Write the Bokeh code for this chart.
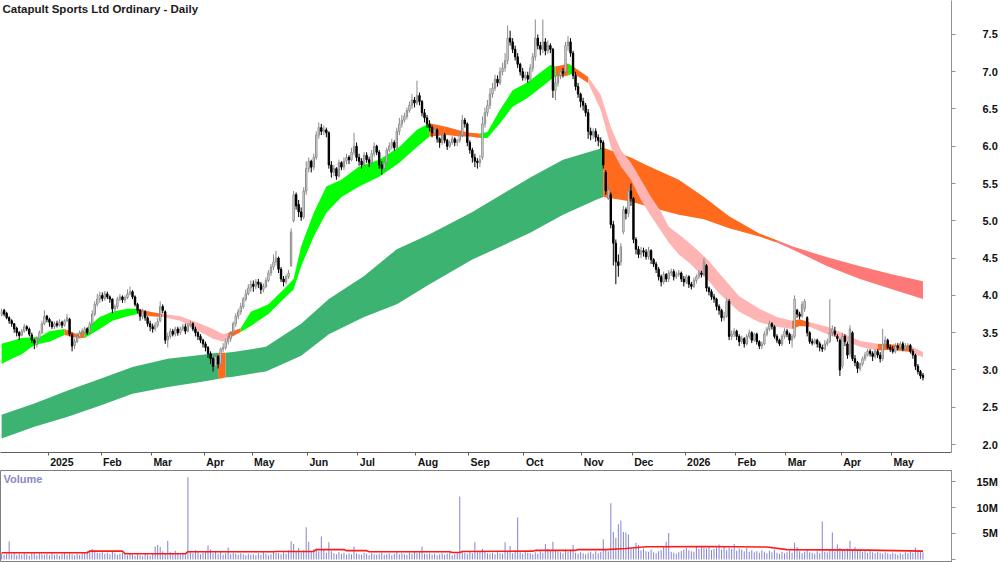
import numpy as np
import pandas as pd
from bokeh.plotting import figure
from bokeh.layouts import column
from bokeh.models import Range1d, FixedTicker, Label, NumeralTickFormatter
from bokeh.embed import file_html
from bokeh.resources import INLINE

# ---------------- data ----------------
start_date = "2024-12-03"
holidays = ["2024-12-25", "2024-12-26", "2025-01-01", "2025-01-27", "2025-04-18",
            "2025-04-21", "2025-04-25", "2025-06-09", "2025-12-25", "2025-12-26",
            "2026-01-01", "2026-01-26", "2026-04-03", "2026-04-06"]

closes = [
    3.78, 3.75, 3.70, 3.66, 3.62, 3.55, 3.50, 3.46, 3.52, 3.58,
    3.55, 3.48, 3.40, 3.36, 3.42, 3.50, 3.62, 3.72, 3.68, 3.64,
    3.58, 3.62, 3.60, 3.64, 3.60, 3.66, 3.70, 3.48, 3.32, 3.38,
    3.45, 3.50, 3.52, 3.55, 3.50, 3.62, 3.75, 3.88, 3.95, 4.00,
    3.96, 4.02, 3.98, 3.95, 3.82, 3.85, 3.95, 3.98, 3.94, 3.97,
    4.02, 4.05, 3.98, 3.88, 3.80, 3.72, 3.78, 3.70, 3.62, 3.58,
    3.55, 3.60, 3.65, 3.85, 3.80, 3.40, 3.45, 3.52, 3.48, 3.55,
    3.50, 3.55, 3.58, 3.52, 3.60, 3.62, 3.55, 3.50, 3.45, 3.40,
    3.35, 3.30, 3.22, 3.15, 3.05, 3.18, 3.08, 3.28, 3.30, 3.38,
    3.42, 3.48, 3.62, 3.72, 3.78, 3.85, 3.95, 4.02, 4.10, 4.15,
    4.12, 4.18, 4.15, 4.08, 4.12, 4.20, 4.30, 4.38, 4.45, 4.50,
    4.35, 4.22, 4.18, 4.25, 4.30, 4.85, 5.35, 5.20, 5.12, 5.05,
    5.40, 5.70, 5.80, 5.72, 5.85, 6.15, 6.25, 6.20, 6.22, 6.18,
    5.75, 5.65, 5.70, 5.60, 5.78, 5.72, 5.80, 5.85, 5.82, 5.92,
    6.00, 5.85, 5.80, 5.75, 5.88, 5.82, 5.78, 5.90, 6.00, 5.92,
    5.75, 5.70, 5.78, 5.95, 6.00, 6.05, 5.98, 6.20, 6.30, 6.35,
    6.40, 6.48, 6.55, 6.62, 6.58, 6.68, 6.60, 6.45, 6.38, 6.30,
    6.25, 6.18, 6.22, 6.10, 6.05, 6.15, 6.08, 6.00, 6.05, 6.10,
    6.05, 6.08, 6.15, 6.35, 6.30, 6.05, 5.95, 5.85, 5.80, 5.78,
    5.82, 6.30, 6.45, 6.55, 6.70, 6.78, 6.90, 6.85, 7.00, 7.05,
    7.15, 7.45, 7.40, 7.30, 7.20, 7.10, 7.00, 6.92, 6.95, 6.90,
    7.05, 7.20, 7.45, 7.35, 7.30, 7.40, 7.28, 7.35, 7.30, 6.75,
    6.85, 6.95, 7.00, 6.98, 7.35, 7.40, 7.25, 6.95, 6.80, 6.70,
    6.60, 6.55, 6.45, 6.20, 6.15, 6.20, 6.12, 6.08, 6.05, 5.75,
    5.40, 5.42, 4.95, 4.70, 4.45, 4.40, 4.65, 5.15, 5.10, 5.40,
    5.30, 4.75, 4.62, 4.55, 4.60, 4.58, 4.52, 4.60, 4.48, 4.42,
    4.35, 4.25, 4.18, 4.28, 4.22, 4.30, 4.32, 4.25, 4.28, 4.30,
    4.22, 4.18, 4.25, 4.15, 4.12, 4.20, 4.25, 4.30, 4.28, 4.45,
    4.10, 4.05, 3.98, 3.95, 3.85, 3.80, 3.70, 3.72, 3.92, 3.45,
    3.48, 3.52, 3.45, 3.38, 3.42, 3.35, 3.45, 3.50, 3.40, 3.48,
    3.38, 3.32, 3.35, 3.48, 3.55, 3.62, 3.58, 3.45, 3.40, 3.35,
    3.45, 3.52, 3.48, 3.40, 3.45, 3.95, 3.75, 3.72, 3.88, 3.92,
    3.50, 3.38, 3.36, 3.40, 3.35, 3.30, 3.28, 3.35, 3.38, 3.50,
    3.55, 3.48, 3.42, 3.00, 3.45, 3.38, 3.20, 3.55, 3.15, 3.10,
    3.02, 3.08, 3.15, 3.20, 3.25, 3.22, 3.18, 3.25, 3.20, 3.15,
    3.35, 3.40, 3.30, 3.28, 3.25, 3.32, 3.30, 3.35, 3.28, 3.32,
    3.33, 3.25, 3.20, 3.05, 2.98, 2.92, 2.90]

opens = [
    3.74, 3.80, 3.76, 3.70, 3.66, 3.62, 3.56, 3.50, 3.47, 3.52,
    3.58, 3.55, 3.47, 3.40, 3.34, 3.42, 3.50, 3.62, 3.72, 3.68,
    3.64, 3.58, 3.62, 3.60, 3.64, 3.60, 3.66, 3.68, 3.47, 3.33,
    3.38, 3.45, 3.50, 3.51, 3.55, 3.50, 3.62, 3.75, 3.88, 3.95,
    4.00, 3.96, 4.02, 3.98, 3.95, 3.82, 3.85, 3.95, 3.98, 3.94,
    3.97, 4.02, 4.05, 3.98, 3.88, 3.80, 3.72, 3.78, 3.70, 3.62,
    3.58, 3.55, 3.60, 3.66, 3.85, 3.78, 3.40, 3.45, 3.52, 3.48,
    3.55, 3.50, 3.55, 3.58, 3.52, 3.60, 3.62, 3.55, 3.50, 3.45,
    3.40, 3.35, 3.30, 3.22, 3.15, 3.05, 3.18, 3.08, 3.28, 3.30,
    3.38, 3.42, 3.50, 3.62, 3.72, 3.78, 3.85, 3.95, 4.02, 4.10,
    4.15, 4.12, 4.18, 4.15, 4.08, 4.12, 4.20, 4.30, 4.38, 4.45,
    4.50, 4.35, 4.22, 4.18, 4.25, 4.40, 5.00, 5.35, 5.22, 5.12,
    5.05, 5.40, 5.70, 5.80, 5.72, 5.85, 6.15, 6.25, 6.20, 6.22,
    6.18, 5.75, 5.65, 5.70, 5.60, 5.78, 5.72, 5.80, 5.85, 5.82,
    5.92, 6.00, 5.85, 5.80, 5.75, 5.88, 5.82, 5.78, 5.90, 6.00,
    5.92, 5.75, 5.70, 5.78, 5.95, 6.00, 6.05, 5.98, 6.20, 6.30,
    6.35, 6.40, 6.48, 6.55, 6.62, 6.58, 6.68, 6.60, 6.45, 6.38,
    6.30, 6.25, 6.18, 6.22, 6.10, 6.05, 6.15, 6.08, 6.00, 6.05,
    6.10, 6.05, 6.08, 6.15, 6.35, 6.30, 6.05, 5.95, 5.85, 5.80,
    5.78, 5.85, 6.30, 6.45, 6.55, 6.70, 6.78, 6.90, 6.85, 7.00,
    7.05, 7.15, 7.45, 7.40, 7.30, 7.20, 7.10, 7.00, 6.92, 6.95,
    6.90, 7.05, 7.20, 7.45, 7.35, 7.30, 7.40, 7.28, 7.35, 7.30,
    6.75, 6.85, 6.95, 7.00, 7.00, 7.35, 7.40, 7.25, 6.95, 6.80,
    6.70, 6.60, 6.55, 6.45, 6.20, 6.15, 6.20, 6.12, 6.08, 6.05,
    5.65, 5.30, 5.35, 4.95, 4.70, 4.45, 4.45, 4.85, 5.15, 5.10,
    5.40, 5.30, 4.75, 4.62, 4.55, 4.60, 4.58, 4.52, 4.60, 4.48,
    4.42, 4.35, 4.25, 4.18, 4.28, 4.22, 4.30, 4.32, 4.25, 4.28,
    4.30, 4.22, 4.18, 4.25, 4.15, 4.12, 4.20, 4.25, 4.30, 4.28,
    4.40, 4.10, 4.05, 3.98, 3.95, 3.85, 3.80, 3.70, 3.72, 3.92,
    3.45, 3.48, 3.52, 3.45, 3.38, 3.42, 3.35, 3.45, 3.50, 3.40,
    3.48, 3.38, 3.32, 3.35, 3.48, 3.55, 3.62, 3.58, 3.45, 3.40,
    3.35, 3.45, 3.52, 3.48, 3.40, 3.45, 3.80, 3.75, 3.72, 3.82,
    3.70, 3.50, 3.38, 3.36, 3.40, 3.35, 3.30, 3.28, 3.35, 3.38,
    3.50, 3.52, 3.45, 3.40, 3.05, 3.45, 3.35, 3.22, 3.50, 3.15,
    3.10, 3.02, 3.08, 3.15, 3.20, 3.25, 3.22, 3.18, 3.25, 3.20,
    3.15, 3.35, 3.40, 3.30, 3.28, 3.25, 3.32, 3.30, 3.35, 3.28,
    3.32, 3.33, 3.25, 3.20, 3.05, 2.98, 2.93]

highs = [
    3.82, 3.82, 3.78, 3.72, 3.68, 3.63, 3.58, 3.52, 3.55, 3.62,
    3.60, 3.57, 3.50, 3.42, 3.45, 3.53, 3.66, 3.80, 3.74, 3.70,
    3.66, 3.65, 3.66, 3.68, 3.66, 3.68, 3.75, 3.70, 3.50, 3.42,
    3.50, 3.53, 3.56, 3.58, 3.57, 3.65, 3.80, 3.92, 4.02, 4.05,
    4.04, 4.06, 4.05, 4.00, 3.96, 3.88, 3.98, 4.02, 4.00, 4.00,
    4.08, 4.12, 4.07, 4.00, 3.90, 3.82, 3.82, 3.80, 3.72, 3.66,
    3.62, 3.64, 3.70, 3.92, 3.88, 3.80, 3.50, 3.56, 3.55, 3.58,
    3.58, 3.58, 3.62, 3.62, 3.63, 3.66, 3.64, 3.58, 3.52, 3.48,
    3.42, 3.38, 3.32, 3.25, 3.17, 3.22, 3.20, 3.30, 3.36, 3.42,
    3.46, 3.52, 3.65, 3.76, 3.82, 3.90, 3.98, 4.08, 4.15, 4.20,
    4.20, 4.22, 4.22, 4.18, 4.16, 4.24, 4.34, 4.42, 4.55, 4.60,
    4.52, 4.38, 4.26, 4.28, 4.34, 4.90, 5.40, 5.38, 5.28, 5.18,
    5.45, 5.80, 5.85, 5.82, 5.90, 6.20, 6.32, 6.30, 6.28, 6.25,
    6.20, 5.80, 5.75, 5.72, 5.82, 5.80, 5.85, 5.90, 5.88, 5.98,
    6.18, 6.05, 5.90, 5.84, 5.92, 5.92, 5.86, 5.95, 6.05, 6.02,
    5.95, 5.80, 5.82, 5.98, 6.05, 6.10, 6.08, 6.25, 6.38, 6.42,
    6.45, 6.52, 6.60, 6.70, 6.66, 6.88, 6.72, 6.62, 6.50, 6.42,
    6.35, 6.28, 6.26, 6.24, 6.12, 6.18, 6.18, 6.10, 6.08, 6.14,
    6.12, 6.10, 6.20, 6.42, 6.38, 6.32, 6.08, 5.98, 5.90, 5.84,
    5.88, 6.40, 6.52, 6.62, 6.78, 6.85, 6.96, 6.95, 7.06, 7.12,
    7.25, 7.62, 7.55, 7.45, 7.35, 7.25, 7.12, 7.05, 7.00, 7.00,
    7.10, 7.25, 7.70, 7.50, 7.40, 7.70, 7.45, 7.42, 7.38, 7.32,
    6.95, 7.00, 7.05, 7.05, 7.40, 7.48, 7.45, 7.28, 7.00, 6.85,
    6.72, 6.65, 6.58, 6.50, 6.25, 6.24, 6.24, 6.16, 6.12, 6.08,
    5.68, 5.48, 5.38, 5.00, 4.75, 4.55, 4.70, 5.20, 5.18, 5.48,
    5.50, 5.32, 4.78, 4.66, 4.65, 4.64, 4.62, 4.65, 4.62, 4.50,
    4.45, 4.38, 4.28, 4.32, 4.30, 4.34, 4.36, 4.35, 4.32, 4.34,
    4.32, 4.26, 4.28, 4.27, 4.18, 4.24, 4.28, 4.34, 4.33, 4.50,
    4.42, 4.12, 4.08, 4.02, 3.97, 3.88, 3.82, 3.78, 3.96, 3.95,
    3.53, 3.56, 3.54, 3.48, 3.46, 3.44, 3.48, 3.54, 3.52, 3.50,
    3.50, 3.40, 3.38, 3.52, 3.58, 3.66, 3.64, 3.60, 3.48, 3.42,
    3.48, 3.56, 3.55, 3.50, 3.48, 4.00, 3.82, 3.78, 3.92, 3.95,
    3.72, 3.52, 3.42, 3.42, 3.42, 3.38, 3.34, 3.40, 3.42, 3.95,
    3.60, 3.58, 3.48, 3.42, 3.50, 3.48, 3.38, 3.60, 3.52, 3.20,
    3.12, 3.10, 3.18, 3.24, 3.28, 3.28, 3.25, 3.28, 3.28, 3.24,
    3.55, 3.45, 3.42, 3.34, 3.32, 3.36, 3.36, 3.38, 3.38, 3.36,
    3.36, 3.35, 3.28, 3.22, 3.08, 3.00, 2.96]

lows = [
    3.72, 3.72, 3.68, 3.62, 3.58, 3.50, 3.45, 3.40, 3.45, 3.50,
    3.52, 3.45, 3.36, 3.28, 3.30, 3.40, 3.48, 3.60, 3.64, 3.58,
    3.55, 3.55, 3.57, 3.58, 3.56, 3.58, 3.64, 3.45, 3.25, 3.28,
    3.36, 3.42, 3.47, 3.48, 3.47, 3.48, 3.60, 3.72, 3.85, 3.90,
    3.92, 3.93, 3.95, 3.90, 3.76, 3.78, 3.82, 3.92, 3.90, 3.90,
    3.95, 4.00, 3.95, 3.85, 3.76, 3.66, 3.68, 3.66, 3.58, 3.52,
    3.50, 3.52, 3.57, 3.64, 3.76, 3.35, 3.30, 3.42, 3.45, 3.45,
    3.46, 3.47, 3.52, 3.48, 3.50, 3.57, 3.52, 3.45, 3.40, 3.36,
    3.30, 3.25, 3.16, 3.08, 2.98, 3.02, 3.02, 3.05, 3.24, 3.27,
    3.34, 3.38, 3.48, 3.58, 3.68, 3.74, 3.82, 3.92, 4.00, 4.05,
    4.05, 4.08, 4.10, 4.02, 4.04, 4.10, 4.18, 4.26, 4.34, 4.40,
    4.30, 4.18, 4.12, 4.15, 4.22, 4.38, 4.98, 5.15, 5.05, 5.00,
    5.02, 5.35, 5.65, 5.65, 5.68, 5.82, 6.10, 6.15, 6.15, 6.12,
    5.70, 5.58, 5.60, 5.55, 5.58, 5.68, 5.68, 5.76, 5.76, 5.80,
    5.88, 5.80, 5.74, 5.70, 5.72, 5.78, 5.72, 5.74, 5.86, 5.88,
    5.70, 5.62, 5.66, 5.75, 5.92, 5.96, 5.94, 5.96, 6.15, 6.25,
    6.32, 6.36, 6.45, 6.50, 6.52, 6.55, 6.55, 6.40, 6.32, 6.25,
    6.20, 6.12, 6.15, 6.05, 5.98, 6.02, 6.04, 5.95, 5.98, 6.02,
    6.00, 6.00, 6.05, 6.12, 6.25, 6.00, 5.90, 5.78, 5.72, 5.70,
    5.72, 5.82, 6.25, 6.40, 6.50, 6.65, 6.74, 6.80, 6.82, 6.95,
    7.00, 7.10, 7.35, 7.25, 7.15, 7.05, 6.95, 6.88, 6.88, 6.85,
    6.86, 7.00, 7.15, 7.30, 7.22, 7.25, 7.22, 7.24, 7.25, 6.65,
    6.62, 6.80, 6.90, 6.92, 6.95, 7.28, 7.20, 6.90, 6.75, 6.65,
    6.52, 6.48, 6.40, 6.10, 6.08, 6.10, 6.06, 6.00, 5.96, 5.70,
    5.35, 5.28, 4.90, 4.40, 4.15, 4.25, 4.40, 4.82, 5.02, 5.05,
    5.20, 4.70, 4.55, 4.50, 4.50, 4.52, 4.48, 4.48, 4.42, 4.38,
    4.30, 4.20, 4.12, 4.15, 4.18, 4.18, 4.26, 4.20, 4.22, 4.25,
    4.18, 4.12, 4.15, 4.10, 4.08, 4.10, 4.16, 4.22, 4.24, 4.26,
    4.05, 4.00, 3.94, 3.90, 3.80, 3.74, 3.65, 3.66, 3.70, 3.40,
    3.40, 3.44, 3.40, 3.32, 3.35, 3.30, 3.33, 3.42, 3.36, 3.38,
    3.34, 3.28, 3.28, 3.33, 3.45, 3.52, 3.54, 3.42, 3.36, 3.32,
    3.32, 3.42, 3.44, 3.35, 3.30, 3.42, 3.70, 3.68, 3.70, 3.78,
    3.45, 3.35, 3.33, 3.34, 3.30, 3.25, 3.24, 3.26, 3.32, 3.36,
    3.45, 3.45, 3.38, 2.92, 3.02, 3.32, 3.15, 3.18, 3.12, 3.05,
    2.96, 2.98, 3.05, 3.12, 3.18, 3.18, 3.12, 3.15, 3.16, 3.10,
    3.12, 3.30, 3.28, 3.24, 3.22, 3.22, 3.26, 3.27, 3.25, 3.25,
    3.28, 3.22, 3.15, 3.00, 2.94, 2.88, 2.86]

volumes_m = [
    1.2, 0.9, 1.1, 3.5, 1.0, 1.3, 0.8, 1.1, 0.9, 1.2,
    1.0, 0.7, 1.3, 1.1, 0.8, 1.2, 1.0, 0.9, 1.1, 0.8,
    1.2, 0.9, 1.0, 0.7, 1.1, 1.3, 0.9, 1.2, 1.0, 0.8,
    1.1, 0.9, 1.2, 1.4, 1.6, 1.8, 2.0, 1.5, 1.3, 1.2,
    1.4, 1.1, 1.3, 1.0, 1.5, 1.2, 0.9, 1.1, 1.3, 1.0,
    0.8, 1.2, 0.9, 0.7, 1.0, 0.8, 0.6, 1.1, 0.9, 0.7,
    1.0, 2.5, 2.8, 2.4, 1.6, 1.2, 3.6, 1.4, 1.0, 1.7,
    1.1, 0.9, 1.3, 1.0, 15.8, 1.5, 1.2, 1.8, 1.4, 1.0,
    1.3, 1.6, 2.7, 1.9, 1.2, 1.5, 1.1, 1.4, 0.9, 1.2,
    2.3, 1.0, 1.3, 1.1, 0.9, 1.2, 1.0, 0.8, 1.1, 0.9,
    1.0, 0.8, 1.2, 0.9, 1.4, 1.1, 0.8, 1.0, 1.6, 1.3,
    1.2, 1.0, 1.4, 1.1, 1.8, 3.5, 3.0, 1.6, 2.2, 1.4,
    1.8, 6.2, 3.4, 1.5, 2.0, 2.1, 1.6, 4.4, 1.9, 1.3,
    3.3, 1.6, 1.2, 1.0, 1.4, 1.1, 1.3, 0.9, 1.2, 1.0,
    2.5, 1.2, 1.0, 0.9, 1.3, 1.1, 0.8, 1.2, 1.0, 0.9,
    1.1, 1.3, 0.9, 1.0, 1.2, 0.8, 1.1, 1.4, 1.0, 1.2,
    1.0, 0.9, 1.3, 1.1, 1.5, 1.2, 1.4, 2.5, 1.1, 1.0,
    1.2, 0.9, 1.1, 0.8, 1.0, 1.2, 0.9, 1.1, 1.3, 0.8,
    1.0, 1.2, 12.1, 1.4, 1.3, 1.1, 1.6, 1.2, 3.3, 1.4,
    1.5, 2.0, 1.6, 1.2, 1.1, 1.3, 1.0, 1.4, 1.2, 1.1,
    3.3, 1.5, 2.6, 1.2, 1.8, 8.1, 1.4, 1.1, 1.5, 1.3,
    1.2, 1.0, 1.4, 1.1, 1.6, 1.3, 3.0, 2.0, 1.7, 3.4,
    1.8, 1.6, 1.4, 1.2, 1.9, 1.5, 1.7, 2.8, 1.3, 1.1,
    1.4, 1.2, 1.0, 1.3, 1.5, 1.1, 1.6, 1.2, 1.5, 3.9,
    1.8, 1.6, 10.8, 5.3, 4.2, 6.8, 7.5, 5.3, 5.2, 4.8,
    2.2, 2.0, 3.2, 2.8, 1.8, 2.1, 1.6, 1.5, 1.9, 1.4,
    1.2, 1.6, 1.8, 2.6, 3.4, 5.1, 1.5, 1.3, 1.1, 1.4,
    1.7, 1.9, 2.2, 1.8, 1.6, 1.5, 2.4, 2.0, 2.6, 2.3,
    2.1, 2.4, 1.8, 2.0, 2.2, 2.9, 1.9, 2.5, 1.8, 2.3,
    2.0, 3.0, 1.7, 2.1, 1.9, 1.6, 2.2, 1.5, 1.8, 1.4,
    1.6, 1.3, 1.8, 1.5, 1.2, 1.7, 1.4, 1.9, 1.3, 1.1,
    1.5, 1.2, 1.4, 1.7, 1.3, 3.2, 2.4, 1.6, 1.2, 1.5,
    1.9, 1.4, 1.3, 1.1, 1.6, 1.2, 7.3, 1.5, 1.4, 1.8,
    5.2, 1.6, 2.9, 2.2, 1.9, 1.7, 2.1, 3.6, 1.8, 2.4,
    1.7, 2.0, 1.5, 1.8, 1.3, 1.6, 1.4, 1.2, 1.5, 1.3,
    1.1, 1.4, 1.2, 1.0, 1.3, 1.1, 0.9, 1.2, 1.0, 1.4,
    1.2, 1.5, 1.3, 2.3, 1.8, 1.6, 1.4]

# volume moving average (breakpoints: bar index, value in millions)
vma_idx = [0, 34, 35, 48, 49, 73, 74, 108, 109, 124, 125, 136, 137, 145, 146, 178,
           179, 182, 183, 211, 212, 228, 229, 240, 248, 256, 280, 304, 312, 344, 366]
vma_val = [1.3, 1.3, 1.6, 1.6, 1.1, 1.1, 1.5, 1.5, 1.55, 1.55, 1.9, 1.9, 1.7, 1.7, 1.5, 1.5,
           1.35, 1.35, 1.55, 1.6, 1.75, 1.75, 1.9, 1.9, 2.1, 2.45, 2.5, 2.4, 1.9, 1.8, 1.6]

# short-term MMA band (read at sample bars)
sb_idx = [0, 4, 8, 12, 15, 19, 25, 30, 33, 39, 44, 50, 54, 59, 64, 71, 79, 84, 88, 90,
          95, 99, 106, 112, 116, 119, 124, 129, 135, 142, 150, 158, 165, 170, 177, 182, 186, 190, 193, 198,
          203, 209, 214, 218, 220, 223, 225, 227, 233, 238, 242, 246, 250, 254, 258, 262, 265, 269, 273, 277,
          281, 285, 293, 301, 308, 314, 317, 321, 328, 333, 341, 348, 354, 361, 366]
sb_hi = [3.35, 3.39, 3.43, 3.44, 3.44, 3.52, 3.55, 3.48, 3.54, 3.71, 3.78, 3.82, 3.82, 3.78, 3.75, 3.72, 3.62, 3.55, 3.48, 3.50,
         3.56, 3.78, 3.88, 4.08, 4.22, 4.66, 5.11, 5.46, 5.55, 5.73, 5.82, 5.99, 6.22, 6.31, 6.26, 6.21, 6.18, 6.17, 6.19, 6.49,
         6.75, 6.86, 6.99, 7.09, 7.07, 7.09, 7.11, 7.07, 6.93, 6.69, 6.26, 5.95, 5.78, 5.55, 5.32, 5.12, 4.92, 4.82, 4.71, 4.59,
         4.46, 4.30, 3.99, 3.82, 3.71, 3.66, 3.68, 3.64, 3.58, 3.51, 3.39, 3.35, 3.34, 3.32, 3.24]
sb_lo = [3.08, 3.15, 3.21, 3.31, 3.35, 3.38, 3.47, 3.43, 3.43, 3.55, 3.66, 3.72, 3.75, 3.72, 3.71, 3.66, 3.51, 3.42, 3.38, 3.42,
         3.51, 3.59, 3.75, 3.95, 4.08, 4.39, 4.79, 5.11, 5.32, 5.46, 5.59, 5.78, 5.99, 6.13, 6.15, 6.13, 6.13, 6.11, 6.11, 6.31,
         6.53, 6.65, 6.78, 6.89, 6.94, 6.94, 6.95, 6.98, 6.85, 6.49, 5.99, 5.73, 5.55, 5.28, 5.06, 4.86, 4.71, 4.55, 4.44, 4.31,
         4.19, 4.03, 3.78, 3.64, 3.58, 3.55, 3.59, 3.58, 3.48, 3.42, 3.31, 3.26, 3.27, 3.24, 3.17]
sb_segments = [(0, 25, "up"), (25, 33, "mixed"), (33, 54, "up"), (54, 64, "mixed"), (64, 90, "down"),
               (90, 95, "mixed"), (95, 170, "up"), (170, 190, "mixed"), (190, 220, "up"), (220, 225, "mixed"),
               (225, 227, "up"), (227, 233, "mixed"), (233, 314, "down"), (314, 321, "mixed"),
               (321, 348, "down"), (348, 361, "mixed"), (361, 366, "down")]

# long-term MMA band
lb_idx = [0, 13, 26, 39, 52, 66, 79, 86, 89, 92, 105, 119, 130, 144, 157, 170, 187, 210, 223, 236,
          239, 250, 256, 269, 279, 289, 301, 308, 314, 328, 341, 354, 366]
lb_hi = [2.40, 2.55, 2.72, 2.88, 3.04, 3.15, 3.20, 3.23, 3.23, 3.24, 3.31, 3.62, 3.95, 4.26, 4.62, 4.82, 5.12, 5.58, 5.82, 5.95,
         5.98, 5.85, 5.75, 5.55, 5.32, 5.06, 4.83, 4.74, 4.66, 4.51, 4.39, 4.28, 4.19]
lb_lo = [2.08, 2.24, 2.37, 2.52, 2.68, 2.77, 2.84, 2.88, 2.90, 2.91, 2.98, 3.19, 3.48, 3.71, 3.88, 4.15, 4.48, 4.84, 5.08, 5.28,
         5.32, 5.26, 5.20, 5.08, 5.02, 4.90, 4.79, 4.71, 4.62, 4.39, 4.22, 4.08, 3.95]
lb_segments = [(0, 86, "up"), (86, 89, "mixed"), (89, 239, "up"), (239, 308, "mixed"), (308, 366, "down")]

price_ticks = [2.0, 2.5, 3.0, 3.5, 4.0, 4.5, 5.0, 5.5, 6.0, 6.5, 7.0, 7.5]
vol_ticks = [0, 5, 10, 15]
vol_tick_labels = ["", "\u20075M", "10M", "15M"]

# ---------------- styling ----------------
SHORT_COL = {"up": "#00ff00", "mixed": "#ff6a1c", "down": "#ffb4b4"}
LONG_COL = {"up": "#3cb371", "mixed": "#ff6a1c", "down": "#ff7878"}
UP_LINE = "#8a8a8a"
VOL_COL = "#8484d0"
FONT = "Liberation Sans"
LABEL_PX = 11
XLABEL_PX = 10.5
# advance widths (em) of Liberation Sans Bold, used to place month labels just right of their tick
BOLD_EM = {"0": .556, "1": .556, "2": .556, "5": .556, "6": .556, "F": .611, "e": .556, "b": .611,
           "M": .833, "a": .556, "r": .389, "A": .722, "p": .611, "y": .556, "J": .556, "u": .611,
           "n": .611, "l": .278, "g": .611, "S": .667, "O": .778, "c": .556, "t": .333, "N": .722,
           "o": .611, "v": .556, "D": .722}

n = len(closes)
idx = np.arange(n)
o = np.array(opens); h = np.array(highs); l = np.array(lows); c = np.array(closes)
up = c >= o

dates = pd.bdate_range(start=start_date, periods=n, freq="C", holidays=holidays)
months = dates.to_period("M")
tick_pos, tick_lab = [], []
for i in range(1, n):
    if months[i] != months[i - 1]:
        tick_pos.append(i - 0.5)
        d = dates[i]
        tick_lab.append(str(d.year) if d.month == 1 else d.strftime("%b"))

PX_PER_BAR = 2.52
FRAME_W = 952
Y_TOP = 7.955
x_range = Range1d(-0.44, -0.44 + FRAME_W / PX_PER_BAR)

# label centres: boundary + 2px + half the label width (in bar units)
label_centres = []
for t, s in zip(tick_pos, tick_lab):
    w = sum(BOLD_EM.get(ch, 0.6) for ch in s) * XLABEL_PX
    label_centres.append(round(t + (2.0 + w / 2.0) / PX_PER_BAR, 3))

p = figure(width=1000, height=470, x_range=x_range, y_range=Range1d(1.893, Y_TOP),
           output_backend="svg", toolbar_location=None, y_axis_location="right",
           min_border_left=0, min_border_right=48, min_border_top=0, min_border_bottom=16)
p.grid.visible = False
p.outline_line_color = None

# bands
for a, b, trend in lb_segments:
    sel = [k for k, v in enumerate(lb_idx) if a <= v <= b]
    p.varea(x=[lb_idx[k] for k in sel], y1=[lb_lo[k] for k in sel], y2=[lb_hi[k] for k in sel],
            fill_color=LONG_COL[trend])
for a, b, trend in sb_segments:
    sel = [k for k, v in enumerate(sb_idx) if a <= v <= b]
    p.varea(x=[sb_idx[k] for k in sel], y1=[sb_lo[k] for k in sel], y2=[sb_hi[k] for k in sel],
            fill_color=SHORT_COL[trend])

# candles
p.segment(x0=idx[up], y0=l[up], x1=idx[up], y1=h[up], line_color=UP_LINE, line_width=1)
p.segment(x0=idx[~up], y0=l[~up], x1=idx[~up], y1=h[~up], line_color="black", line_width=1)
p.vbar(x=idx[up], top=np.maximum(o, c)[up], bottom=np.minimum(o, c)[up], width=0.55,
       fill_color="white", line_color=UP_LINE, line_width=1)
p.vbar(x=idx[~up], top=np.maximum(o, c)[~up], bottom=np.minimum(o, c)[~up], width=0.55,
       fill_color="black", line_color="black", line_width=1)

# x axis: month boundaries as (minor) tick marks, month names as labels just right of them
xa = p.xaxis[0]
xa.ticker = FixedTicker(ticks=label_centres, minor_ticks=tick_pos)
xa.major_label_overrides = {float(t): s for t, s in zip(label_centres, tick_lab)}
xa.major_tick_out = 0
xa.major_tick_in = 0
xa.minor_tick_out = 3
xa.minor_tick_in = 0
xa.major_label_standoff = 0
xa.axis_line_color = "#606060"
xa.minor_tick_line_color = "#606060"
xa.major_label_text_font = FONT
xa.major_label_text_font_style = "bold"
xa.major_label_text_font_size = f"{XLABEL_PX}px"
xa.major_label_text_color = "#111111"

ya = p.yaxis[0]
ya.ticker = FixedTicker(ticks=price_ticks)
ya.formatter = NumeralTickFormatter(format="0.0")
ya.major_tick_out = 4
ya.major_tick_in = 0
ya.minor_tick_out = 0
ya.minor_tick_in = 0
ya.major_label_standoff = 27
ya.axis_line_color = "#909090"
ya.major_tick_line_color = "#909090"
ya.major_label_text_font = FONT
ya.major_label_text_font_style = "bold"
ya.major_label_text_font_size = f"{LABEL_PX}px"
ya.major_label_text_color = "#111111"

# chart title, anchored to the top of the frame
p.add_layout(Label(x=2, y=Y_TOP, x_units="screen", y_units="data", y_offset=-8,
                   text="Catapult Sports Ltd Ordinary - Daily", text_font=FONT,
                   text_font_style="bold", text_font_size="11.5px", text_baseline="middle",
                   text_color="#1a1a1a"))

# volume panel
VOL_TOP = 17.12
pv = figure(width=1000, height=92, x_range=x_range, y_range=Range1d(-0.58, VOL_TOP),
            output_backend="svg", toolbar_location=None, y_axis_location="right", x_axis_location=None,
            min_border_left=0, min_border_right=48, min_border_top=0, min_border_bottom=0)
pv.grid.visible = False
pv.outline_line_color = "#808080"
pv.vbar(x=idx, top=volumes_m, bottom=0, width=0.4, fill_color=VOL_COL, line_color=None)
pv.line(vma_idx, vma_val, line_color="#ff1a1a", line_width=1.6)

va = pv.yaxis[0]
va.ticker = FixedTicker(ticks=vol_ticks)
va.major_label_overrides = {float(t): s for t, s in zip(vol_ticks, vol_tick_labels)}
va.major_tick_out = 4
va.major_tick_in = 0
va.minor_tick_out = 0
va.minor_tick_in = 0
va.major_label_standoff = 21
va.axis_line_color = "#909090"
va.major_tick_line_color = "#909090"
va.major_label_text_font = FONT
va.major_label_text_font_style = "bold"
va.major_label_text_font_size = f"{LABEL_PX}px"
va.major_label_text_color = "#111111"

pv.add_layout(Label(x=3, y=VOL_TOP, x_units="screen", y_units="data", y_offset=-8.5, text="Volume",
                    text_font=FONT, text_font_style="bold", text_font_size="11px",
                    text_baseline="middle", text_color="#8a8ac4"))

layout = column(p, pv, spacing=0)
open("out.html", "w").write(file_html(layout, INLINE))
